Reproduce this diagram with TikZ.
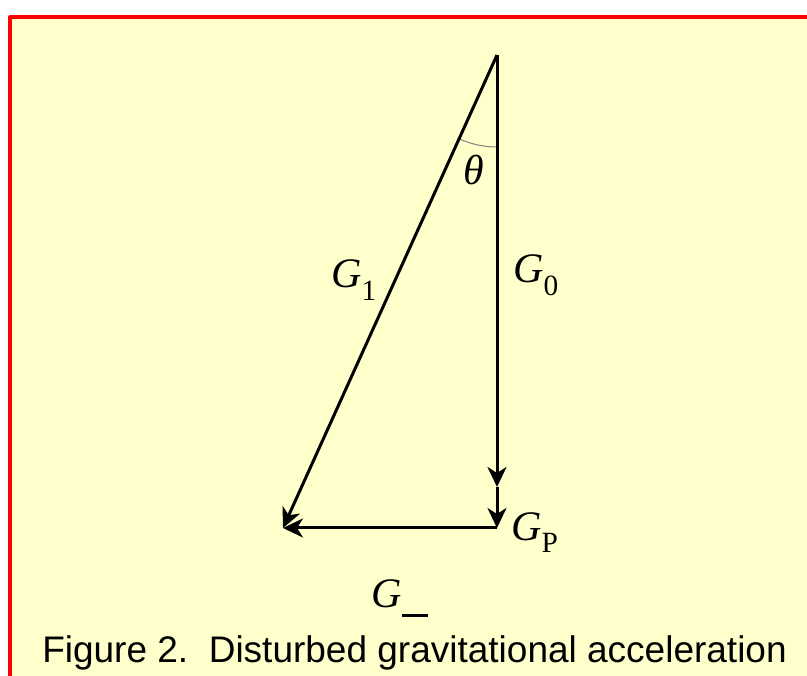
\documentclass[tikz,border=0pt]{standalone}
\usepackage{fontspec}
\setmainfont{Liberation Serif}
\newfontfamily\capfont{Liberation Sans}
\usetikzlibrary{arrows.meta}
\definecolor{paper}{HTML}{FFFFCC}
\newcommand{\vG}[1]{\textit{G}\raisebox{-.3em}{\scalebox{.7}{#1}}}
\tikzset{
  vec/.style={line width=3pt, -{Stealth[length=20pt, width=19pt, inset=6pt]}},
  lab/.style={anchor=base west, inner sep=0pt, font=\fontsize{42}{46}\selectfont},
}
\begin{document}
\begin{tikzpicture}[x=1pt, y=-1pt, line join=round]
			\def\xa{497}
			\def\ya{55}
			\def\yo{487}
			\def\yp{528}
			\def\xl{283}
			\useasboundingbox (0,0) rectangle (807,676);
			\draw[red, line width=4pt, fill=paper] (10,17) rectangle (840,720);
			% vertices
			\coordinate (top) at (\xa,\ya);
			\coordinate (g0) at (\xa,\yo);
			\coordinate (gp) at (\xa,\yp);
			\coordinate (g1) at (\xl,\yp);
			% angle
			\draw[gray, line width=1pt] (top) ++(90:92) arc (90:114.3:92);
			% vectors
			\draw[vec] (top) -- (g0);
			\draw[vec] (g0) -- (gp);
			\draw[vec] (gp) -- (g1);
			\draw[vec] (top) -- (g1);
			% labels
			\node[lab] (theta) at (463,185) {\textit{θ}};
			\node[lab] (lg1) at (331,288) {\vG{1}};
			\node[lab] (lg0) at (513,283) {\vG{0}};
			\node[lab] (lgp) at (511,540) {\vG{P}};
			\node[lab] (lgx) at (371,608) {\textit{G}\rule[-9pt]{26pt}{3pt}};
			\node[anchor=base, inner sep=0pt, font=\capfont\fontsize{37}{40}\selectfont] (cap) at (414.5,662) {Figure 2.\ \ Disturbed gravitational acceleration};
		\end{tikzpicture}
\end{document}
